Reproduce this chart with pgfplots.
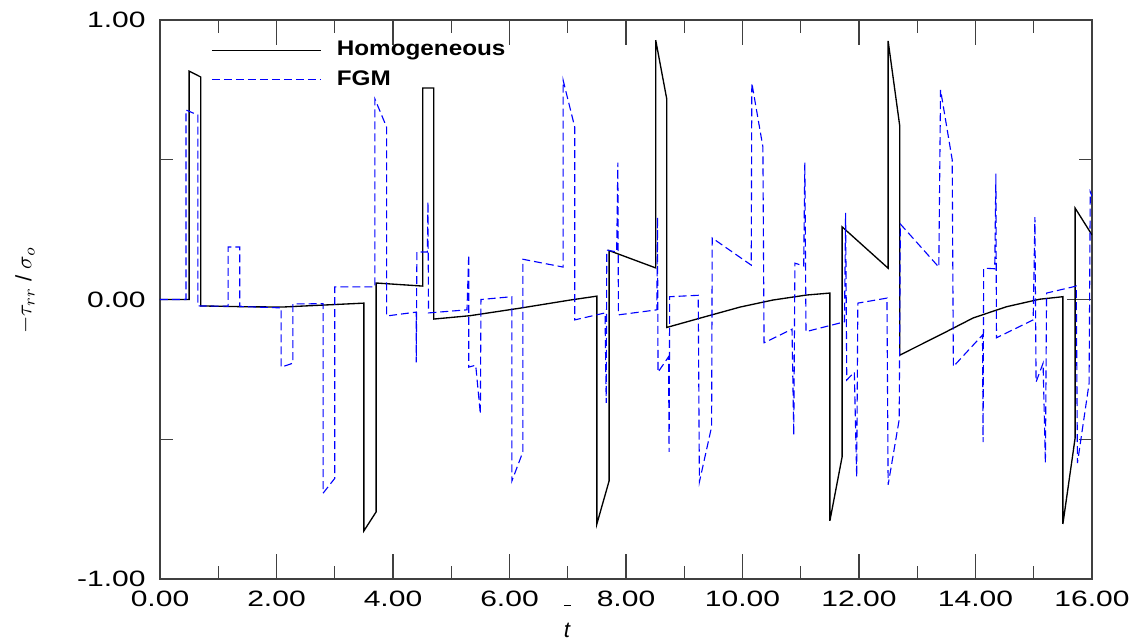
\documentclass[border=0pt]{standalone}
\usepackage{pgfplots}
\pgfplotsset{compat=1.18}
\usepackage{fontspec}
\setmainfont{Liberation Sans}
\newfontfamily\tickfont{Liberation Sans}[FakeStretch=1.35]
\newfontfamily\legfont{Liberation Sans}[FakeStretch=1.15]

% 1 px of the reference = 0.45pt
\def\px{0.45pt}

\pgfplotstableread{
x y
0 0
0.5 0
0.5 0.817
0.70 0.796
0.70 -0.023
1.5 -0.026
2.1 -0.027
2.8 -0.020
3.50 -0.013
3.50 -0.828
3.71 -0.760
3.71 0.059
4.51 0.048
4.51 0.757
4.70 0.757
4.70 -0.070
5.32 -0.058
6.18 -0.031
7.04 -0.002
7.50 0.012
7.50 -0.803
7.71 -0.649
7.71 0.175
8.51 0.113
8.51 0.928
8.70 0.717
8.70 -0.100
9.30 -0.065
9.96 -0.027
10.52 -0.002
11.10 0.016
11.50 0.023
11.50 -0.792
11.71 -0.563
11.71 0.260
12.50 0.112
12.50 0.925
12.70 0.620
12.70 -0.199
13.39 -0.127
13.96 -0.066
14.53 -0.026
15.10 0.001
15.50 0.010
15.50 -0.803
15.71 -0.496
15.71 0.327
16.00 0.231
}\homog

\pgfplotstableread{
x y
0 0
0.446 0
0.446 0.678
0.65 0.660
0.65 -0.023
1.17 -0.024
1.17 0.188
1.37 0.188
1.37 -0.025
2.08 -0.030
2.08 -0.242
2.28 -0.228
2.28 -0.016
2.80 -0.015
2.80 -0.693
3.00 -0.640
3.00 0.045
3.69 0.045
3.69 0.717
3.89 0.617
3.89 -0.059
4.40 -0.045
4.40 -0.225
4.41 0.170
4.59 0.170
4.60 0.350
4.61 -0.048
5.27 -0.037
5.30 0.160
5.30 -0.242
5.42 -0.235
5.50 -0.410
5.51 0.000
6.04 0.010
6.04 -0.650
6.23 -0.545
6.23 0.144
6.92 0.116
6.92 0.785
7.12 0.617
7.12 -0.073
7.64 -0.048
7.66 -0.370
7.67 0.177
7.84 0.170
7.86 0.490
7.87 -0.055
8.53 -0.037
8.54 0.295
8.55 -0.260
8.73 -0.205
8.74 -0.545
8.75 0.010
9.24 0.015
9.26 -0.653
9.47 -0.455
9.48 0.220
10.15 0.123
10.16 0.775
10.35 0.546
10.37 -0.155
10.85 -0.106
10.88 -0.485
10.90 0.130
11.05 0.120
11.07 0.490
11.09 -0.115
11.75 -0.080
11.77 0.310
11.79 -0.288
11.92 -0.260
11.96 -0.635
11.98 -0.013
12.48 0.005
12.50 -0.663
12.69 -0.430
12.71 0.270
13.37 0.116
13.40 0.750
13.60 0.500
13.62 -0.240
14.12 -0.127
14.13 -0.510
14.14 0.112
14.33 0.110
14.35 0.450
14.36 -0.137
14.99 -0.073
15.02 0.295
15.04 -0.295
15.16 -0.228
15.20 -0.585
15.22 0.023
15.73 0.048
15.75 -0.585
15.95 -0.300
15.97 0.385
16.00 0.370
}\fgm

\begin{document}
\begin{tikzpicture}
\begin{axis}[
  name=main,
  scale only axis,
  width=932*\px, height=559*\px,
  xmin=0, xmax=16, ymin=-1, ymax=1,
  axis line style={black!75, line width=0.6pt},
  tick style={black!75, line width=0.5pt},
  tick align=inside,
  major tick length=25*\px,
  minor tick length=13*\px,
  xtick={0,2,...,16},
  minor xtick={1,3,...,15},
  xticklabels={0.00,2.00,4.00,6.00,8.00,10.00,12.00,14.00,16.00},
  ytick={-1,0,1},
  minor ytick={-0.5,0.5},
  yticklabels={-1.00,0.00,1.00},
  tick label style={font=\tickfont\fontsize{10}{12}\selectfont},
  xticklabel style={yshift=-2pt},
  yticklabel style={xshift=-3pt},
  xlabel={\shortstack{\rule{3pt}{0.5pt}\\[5pt]\textit{t}}},
  xlabel style={at={(rel axis cs:0.437,0)}, anchor=north, yshift=-8pt},
  ylabel={$-\tau_{rr}$ / $\sigma_{o}$},
  ylabel style={at={(rel axis cs:0,0.517)}, anchor=center, yshift=135*\px,
    font=\fontsize{10}{12}\selectfont},
  legend style={draw=none, fill=none, at={(rel axis cs:0,1)}, anchor=north west,
    xshift=44*\px, yshift=-12*\px, row sep=1pt,
    /tikz/every odd column/.append style={column sep=5pt},
    font=\legfont\bfseries\fontsize{9.5}{11}\selectfont},
  legend cell align=left,
  legend image code/.code={\draw[#1] (0pt,0pt) -- (49pt,0pt);},
]
\addplot[black, line width=0.6pt] table[x=x,y=y] {\homog};
\addlegendentry{Homogeneous}
\addplot[blue, line width=0.5pt, dash pattern=on 3.6pt off 1.8pt] table[x=x,y=y] {\fgm};
\addlegendentry{FGM}
\end{axis}
\pgfresetboundingbox
\path[use as bounding box] ([shift={(-160*\px,-63*\px)}]main.south west) rectangle ([shift={(48*\px,20*\px)}]main.north east);
\end{tikzpicture}
\end{document}
